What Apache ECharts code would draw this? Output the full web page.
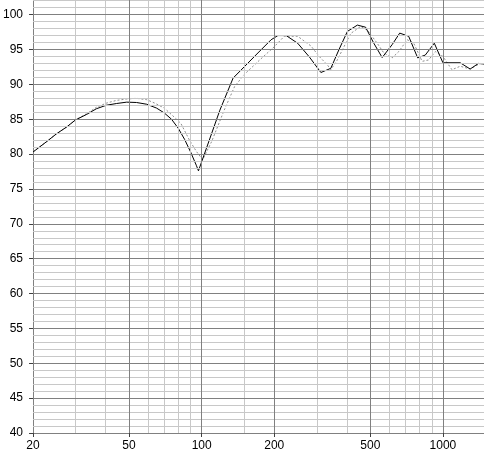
<!DOCTYPE html>
<html>
<head>
<meta charset="utf-8">
<script src="https://cdn.jsdelivr.net/npm/echarts@6/dist/echarts.min.js"></script>
<style>
html,body{margin:0;padding:0;background:#fff;}
#c{width:484px;height:454px;}
</style>
</head>
<body>
<div id="c"></div>
<script>
// Frequency (Hz), level (dB) - solid black trace
const solidFreq = [20,22.8,25,27.6,30,33.4,36.6,40.2,44.3,48.9,53.7,59.2,65,70,75,80,85,90,95,97,119,135,150,171,194,207,224,250,280,312,343,371,402,442,478,517,560,616,662,721,786,845,921,1000,1179,1297,1403,1500];
const solidLevel = [80.3,81.8,82.9,83.9,84.9,85.7,86.5,87.0,87.25,87.45,87.4,87.15,86.6,85.9,85.0,83.7,82.1,80.3,78.4,77.6,86.3,90.9,92.5,94.5,96.4,97.0,97.0,95.9,93.9,91.7,92.3,95.0,97.6,98.5,98.2,95.9,93.85,95.7,97.35,96.9,93.8,94.2,95.9,93.1,93.1,92.2,93.0,92.9];
// Dashed grey trace
const dashFreq = [20,22.8,25,27.6,30,33.4,36.6,40.2,44.3,48.9,53.7,59.2,64,70,77,82,89,95,101,110,124,137,150,174,200,220,250,284,307,332,343,365,389,415,456,486,534,569,616,656,711,757,820,872,930,1000,1090,1179,1297,1426,1500];
const dashLevel = [80.3,81.8,82.9,83.9,84.9,85.8,86.7,87.3,87.7,87.9,88.0,87.8,87.3,86.6,85.3,84.4,82.0,80.4,79.2,81.8,86.3,89.7,91.4,93.5,95.4,96.9,96.9,95.5,94.0,92.8,92.1,93.5,95.4,97.3,98.3,97.8,95.9,94.5,93.8,94.7,96.4,95.9,93.3,93.5,94.7,94.0,92.1,92.6,92.2,93.0,92.9];
// Axis ticks / grid
const xTickLabels = [20,50,100,200,500,1000];
const xMajorGrid = [50,100,200,500,1000];
const xMinorGrid = [30,40,60,70,80,90,150,300,400,600,700,800,900];
const yTickLabels = [40,45,50,55,60,65,70,75,80,85,90,95,100];
const yMajorGrid = [45,50,55,60,65,70,75,80,85,90,95,100];
const yMinorGrid = [41,42,43,44,46,47,48,49,51,52,53,54,56,57,58,59,61,62,63,64,66,67,68,69,71,72,73,74,76,77,78,79,81,82,83,84,86,87,88,89,91,92,93,94,96,97,98,99,101,102];

const pair = (a,b) => a.map((v,i)=>[v,b[i]]);
const ml = (vals, key, color) => vals.map(v => ({[key]: v, lineStyle:{color:color,width:1,type:'solid'}}));

const chart = echarts.init(document.getElementById('c'), null, {renderer:'canvas'});
chart.setOption({
  animation:false,
  backgroundColor:'#ffffff',
  grid:{left:31,right:0,top:0,bottom:21,containLabel:false},
  xAxis:{
    type:'log', logBase:10, min:20, max:1480,
    axisLine:{show:true,lineStyle:{color:'#808080',width:1}},
    axisTick:{show:true,length:4,customValues:xTickLabels,lineStyle:{color:'#404040'}},
    axisLabel:{customValues:xTickLabels,margin:7,color:'#000',fontSize:12,fontFamily:'Liberation Sans, Arial, sans-serif',
      formatter:v=>String(Math.round(v))},
    splitLine:{show:false},minorSplitLine:{show:false}
  },
  yAxis:{
    type:'value', min:40, max:102.1, interval:5,
    axisLine:{show:true,lineStyle:{color:'#808080',width:1}},
    axisTick:{show:true,length:4,customValues:yTickLabels,lineStyle:{color:'#404040'}},
    axisLabel:{customValues:yTickLabels,margin:10,color:'#000',fontSize:12,fontFamily:'Liberation Sans, Arial, sans-serif'},
    splitLine:{show:false}
  },
  series:[
    {type:'line',data:[],z:1,silent:true,
     markLine:{silent:true,symbol:['none','none'],label:{show:false},animation:false,
       data:[].concat(ml(xMinorGrid,'xAxis','#c8c8c8'),ml(yMinorGrid,'yAxis','#c8c8c8'),ml(xMajorGrid,'xAxis','#808080'),ml(yMajorGrid,'yAxis','#808080'))}},
    {type:'line',data:pair(dashFreq,dashLevel),z:3,showSymbol:false,symbol:'none',
     lineStyle:{color:'#8c8c8c',width:1,type:[2,2]}},
    {type:'line',data:pair(solidFreq,solidLevel),z:4,showSymbol:false,symbol:'none',
     lineStyle:{color:'#000000',width:1}}
  ]
});
</script>
</body>
</html>
